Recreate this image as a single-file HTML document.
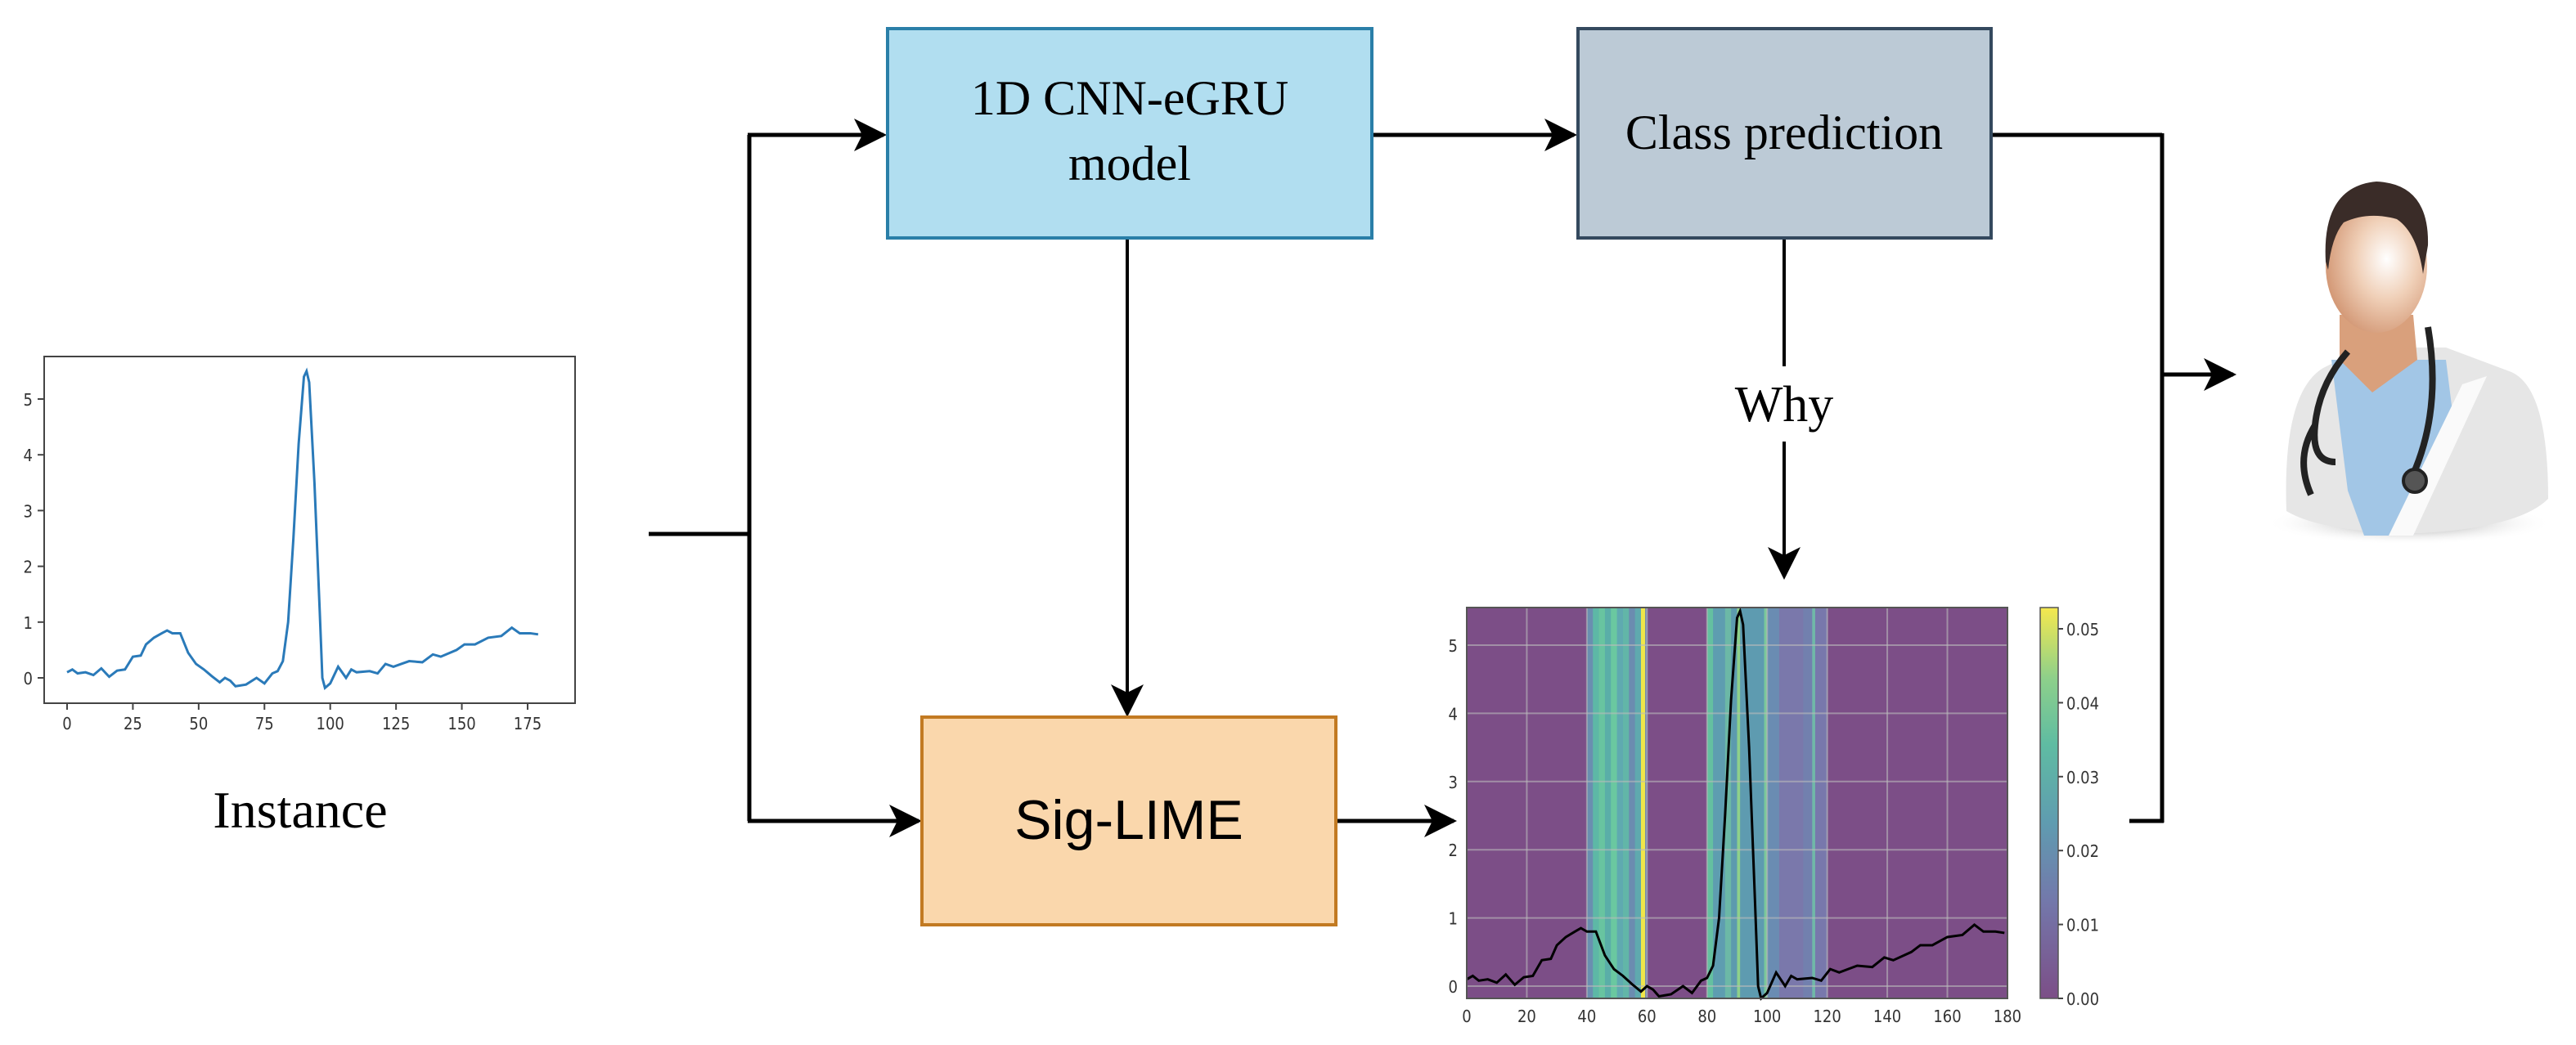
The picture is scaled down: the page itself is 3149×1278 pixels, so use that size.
<!DOCTYPE html>
<html><head><meta charset="utf-8">
<style>
html,body{margin:0;padding:0;background:#fff;}
body{width:3149px;height:1273px;overflow:hidden;}
svg text{font-family:"Liberation Serif",serif;}
.tk{font-family:"DejaVu Sans Condensed","DejaVu Sans","Liberation Sans",sans-serif;font-size:20px;fill:#333;}
</style></head><body>
<svg id="s" width="3149" height="1273" viewBox="0 0 3149 1273" xmlns="http://www.w3.org/2000/svg">
<defs>
<marker id="ah2" viewBox="0 0 20 20" refX="18" refY="10" markerWidth="40" markerHeight="40" markerUnits="userSpaceOnUse" orient="auto">
<path d="M0,0 L20,10 L0,20 L5,10 Z" fill="#000"/></marker>
<linearGradient id="cb" x1="0" y1="1" x2="0" y2="0">
<stop offset="0" stop-color="#7c4e87"/><stop offset="0.25" stop-color="#7378ab"/>
<stop offset="0.45" stop-color="#5f9cb0"/><stop offset="0.65" stop-color="#5fbca2"/>
<stop offset="0.82" stop-color="#8ed08a"/><stop offset="1" stop-color="#f5e84e"/></linearGradient>
<radialGradient id="face" cx="0.6" cy="0.45" r="0.6"><stop offset="0" stop-color="#fff"/><stop offset="0.5" stop-color="#f0d0b8"/><stop offset="1" stop-color="#d49a78"/></radialGradient>
<radialGradient id="sh" cx="0.5" cy="0.5" r="0.5"><stop offset="0" stop-color="#888"/><stop offset="1" stop-color="#fff" stop-opacity="0"/></radialGradient>
</defs>

<rect x="54" y="436" width="649" height="424" fill="#fff" stroke="#444" stroke-width="2"/>
<g id="instTicks"></g>
<polyline id="inst" fill="none" stroke="#2a7ab9" stroke-width="3"/>
<text x="367" y="1012" font-size="64" text-anchor="middle">Instance</text>

<g stroke="#000" stroke-width="5" fill="none">
<line x1="793" y1="653" x2="916" y2="653"/>
<line x1="916" y1="165" x2="916" y2="1004"/>
<line x1="914" y1="165" x2="1080" y2="165" marker-end="url(#ah2)"/>
<line x1="914" y1="1004" x2="1123" y2="1004" marker-end="url(#ah2)"/>
<line x1="1677" y1="165" x2="1924" y2="165" marker-end="url(#ah2)"/>
<line x1="1633" y1="1004" x2="1777" y2="1004" marker-end="url(#ah2)"/>
<line x1="2434" y1="165" x2="2643" y2="165"/>
<line x1="2643" y1="163" x2="2643" y2="1006"/>
<line x1="2603" y1="1004" x2="2645" y2="1004"/>
<line x1="2643" y1="458" x2="2730" y2="458" marker-end="url(#ah2)"/>
</g>
<g stroke="#000" stroke-width="4" fill="none">
<line x1="1378" y1="291" x2="1378" y2="873" marker-end="url(#ah2)"/>
<line x1="2181" y1="291" x2="2181" y2="448"/>
<line x1="2181" y1="540" x2="2181" y2="705" marker-end="url(#ah2)"/>
</g>
<text x="2181" y="515" font-size="62" text-anchor="middle">Why</text>

<rect x="1085" y="35" width="592" height="256" fill="#b1def0" stroke="#2a7fa8" stroke-width="4"/>
<text x="1381" y="140" font-size="60" text-anchor="middle">1D CNN-eGRU</text>
<text x="1381" y="220" font-size="60" text-anchor="middle">model</text>
<rect x="1929" y="35" width="505" height="256" fill="#bccad6" stroke="#34495e" stroke-width="4"/>
<text x="2181" y="182" font-size="60" text-anchor="middle">Class prediction</text>
<rect x="1127" y="877" width="506" height="254" fill="#fad7ac" stroke="#c27a22" stroke-width="4"/>
<text x="1380" y="1026" font-size="68" text-anchor="middle" style="font-family:'Liberation Sans',sans-serif">Sig-LIME</text>

<rect x="1793" y="743" width="661" height="478" fill="#7c4e87"/>
<g id="bands"></g>
<g id="grid" stroke="#bbb" stroke-opacity="0.6" stroke-width="2"></g>
<polyline id="hm" fill="none" stroke="#000" stroke-width="3"/>
<rect x="1793" y="743" width="661" height="478" fill="none" stroke="#555" stroke-width="2"/>
<g id="hmTicks"></g>
<rect x="2494" y="743" width="22" height="478" fill="url(#cb)" stroke="#555" stroke-width="1.5"/>
<g id="cbTicks"></g>

<g>
<ellipse cx="2945" cy="640" rx="175" ry="26" fill="url(#sh)"/>
<path d="M2795,625 Q2790,480 2840,450 L2890,425 L2990,425 L3070,455 Q3115,475 3115,610 Q3080,645 2960,652 Q2840,652 2795,625Z" fill="#e6e6e6"/>
<path d="M2850,440 L2870,600 L2890,655 L2950,655 L3000,520 L2990,440 Z" fill="#a2c6e6"/>
<path d="M2920,655 L3010,470 L3040,460 L2950,655 Z" fill="#fafafa"/>
<path d="M2860,385 L2950,385 L2955,440 L2900,480 L2860,440 Z" fill="#d9a07c"/>
<ellipse cx="2905" cy="325" rx="62" ry="82" fill="url(#face)"/>
<path d="M2843,320 Q2838,228 2905,222 Q2970,225 2968,300 L2962,335 Q2955,285 2930,268 Q2895,258 2865,272 Q2850,290 2846,330Z" fill="#3a2c28"/>
<path d="M2870,430 Q2835,470 2830,520 Q2825,565 2855,565 M2830,520 Q2805,560 2825,605 M2968,400 Q2985,500 2950,580" stroke="#222" stroke-width="8" fill="none"/>
<circle cx="2952" cy="588" r="14" fill="#555" stroke="#222" stroke-width="4"/>
</g>
</svg>
<script>
var d=[[0,.1],[2,.15],[4,.08],[7,.1],[10,.05],[13,.17],[16,.02],[19,.13],[22,.15],[25,.38],[28,.4],[30,.6],[33,.72],[36,.8],[38,.85],[40,.8],[43,.8],[46,.45],[49,.25],[52,.15],[55,.03],[58,-.08],[60,0],[62,-.05],[64,-.15],[68,-.12],[72,0],[75,-.1],[78,.08],[80,.12],[82,.3],[84,1],[86,2.5],[88,4.2],[90,5.4],[91,5.5],[92,5.3],[94,3.5],[96,1.2],[97,0],[98,-.18],[100,-.1],[103,.2],[106,0],[108,.15],[110,.1],[115,.12],[118,.08],[121,.25],[124,.2],[127,.25],[130,.3],[135,.28],[139,.42],[142,.38],[148,.5],[151,.6],[155,.6],[160,.72],[165,.75],[169,.9],[172,.8],[176,.8],[179,.78]];
var NS="http://www.w3.org/2000/svg";
function el(t,a,p,txt){var e=document.createElementNS(NS,t);for(var k in a)e.setAttribute(k,a[k]);if(txt!=null)e.textContent=txt;document.getElementById(p).appendChild(e);return e;}
document.getElementById('inst').setAttribute('points',d.map(function(p){return (82+3.217*p[0])+','+(829-68.2*p[1]);}).join(' '));
document.getElementById('hm').setAttribute('points',d.map(function(p){return (1793+3.672*p[0])+','+(1206-83.4*p[1]);}).join(' '));
for(var v=0;v<=5;v++){var y=829-68.2*v;el('line',{x1:46,y1:y,x2:54,y2:y,stroke:'#444','stroke-width':2},'instTicks');el('text',{x:40,y:y+8,'text-anchor':'end','class':'tk'},'instTicks',v);}
for(var x=0;x<=175;x+=25){var X=82+3.217*x;el('line',{x1:X,y1:860,x2:X,y2:868,stroke:'#444','stroke-width':2},'instTicks');el('text',{x:X,y:892,'text-anchor':'middle','class':'tk'},'instTicks',x);}
var b=[[40,42,'#6a8fb0'],[42,44,'#5db8a6'],[44,46,'#68c4a0'],[46,48,'#5aaea8'],[48,50,'#6ac8a0'],[50,52,'#5faab0'],[52,54,'#62b6a8'],[54,56,'#6b8cb0'],[56,58,'#5fa9ae'],[58,59.4,'#f0e64a'],[59.4,60,'#6a80ad'],[80,82,'#64c0a0'],[82,86,'#5e9db0'],[86,88,'#6cb8a6'],[88,90,'#5c9aae'],[90,91,'#8ed08a'],[91,99,'#5e9bb0'],[99,100,'#7bc89a'],[100,104,'#6a8cb2'],[104,112,'#7a78ab'],[112,115,'#7280ae'],[115,116,'#70b8a8'],[116,120,'#7878ac']];
b.forEach(function(q){el('rect',{x:1793+3.672*q[0],y:743,width:3.672*(q[1]-q[0])+0.5,height:478,fill:q[2]},'bands');});
for(var x=0;x<=180;x+=20){var X=1793+3.672*x;el('line',{x1:X,y1:743,x2:X,y2:1221},'grid');el('text',{x:X,y:1250,'text-anchor':'middle','class':'tk'},'hmTicks',x);}
for(var v=0;v<=5;v++){var y=1206-83.4*v;el('line',{x1:1793,y1:y,x2:2454,y2:y},'grid');el('text',{x:1782,y:y+8,'text-anchor':'end','class':'tk'},'hmTicks',v);}
for(var i=0;i<=5;i++){var y=1221-90.4*i;el('line',{x1:2516,y1:y,x2:2522,y2:y,stroke:'#444','stroke-width':2},'cbTicks');el('text',{x:2526,y:y+8,'class':'tk'},'cbTicks','0.0'+i);}
</script>
</body></html>
